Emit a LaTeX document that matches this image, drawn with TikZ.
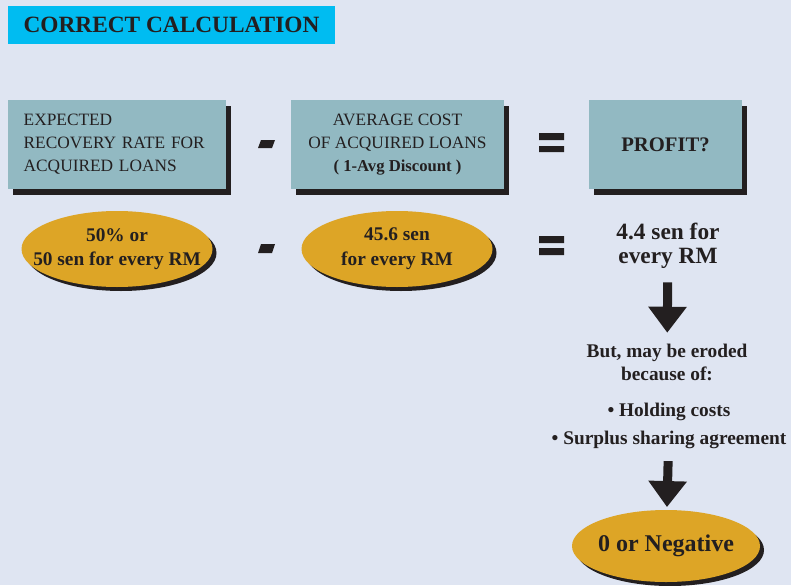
\documentclass[tikz,border=0pt]{standalone}
\usepackage{fontspec}
\setmainfont{Liberation Serif}
\usetikzlibrary{shapes,arrows.meta,shadows,positioning}
\definecolor{bgpage}{HTML}{DFE5F2}
\definecolor{hdrblue}{HTML}{00BCF1}
\definecolor{boxteal}{HTML}{92B9C2}
\definecolor{gold}{HTML}{DDA526}
\definecolor{ink}{HTML}{231F20}

\begin{document}
\begin{tikzpicture}[x=0.75pt,y=-0.75pt,
  tbox/.style={rectangle,fill=boxteal,inner sep=0pt,minimum height=66.75pt,text=ink,
    font=\fontsize{13}{17.25}\selectfont,
    drop shadow={shadow xshift=3.75pt,shadow yshift=-4.5pt,fill=ink,opacity=1}},
  ovl/.style={ellipse,fill=gold,inner xsep=-14pt,inner ysep=0pt,minimum width=143.25pt,minimum height=57pt,
    text=ink,align=center,font=\bfseries\fontsize{14.5}{18.5}\selectfont,
    drop shadow={shadow xshift=3pt,shadow yshift=-3pt,fill=ink,opacity=1}},
  txt/.style={text=ink,align=center,inner sep=0pt,font=\bfseries\fontsize{14.5}{17.25}\selectfont},
  bigarr/.style={draw=ink,line width=6.75pt,-{Triangle[width=27.75pt,length=19.5pt]}},
  opr/.style={fill=ink}]
  \useasboundingbox[fill=bgpage] (0,0) rectangle (791,585);

  \node[fill=hdrblue,minimum width=245.25pt,minimum height=28.5pt,inner sep=0pt,text=ink,
    font=\bfseries\fontsize{17.5}{20}\selectfont] (title) at (171.5,25) {CORRECT CALCULATION};

  \node[tbox,minimum width=163.5pt,text width=140pt,inner xsep=11.75pt,align=left] (exp) at (117,144.5)
    {EXPECTED\\RECOVERY RATE FOR\\ACQUIRED LOANS};
  \node[tbox,minimum width=159.75pt,align=center] (avg) at (397.5,144.5)
    {AVERAGE COST\\OF ACQUIRED LOANS\\{\bfseries\fontsize{12.5}{15}\selectfont( 1-Avg Discount )}};
  \node[tbox,minimum width=114.75pt,font=\bfseries\fontsize{15.5}{18}\selectfont] (prof) at (665.5,144.5) {PROFIT?};

  \node[ovl] (rate) at (117,249) {50\% or\\50 sen for every RM};
  \node[ovl] (cost) at (397,249) {45.6 sen\\for every RM};
  \node[txt,font=\bfseries\fontsize{17.5}{18}\selectfont] (res) at (668,246) {4.4 sen for\\every RM};

  \node[txt] (but) at (667,362) {But, may be eroded\\because of:};
  \node[txt,font=\bfseries\fontsize{14.5}{21}\selectfont] (why) at (669,426) {• Holding costs\\• Surplus sharing agreement};
  \node[ovl,inner xsep=-6pt,minimum width=141pt,minimum height=54pt,font=\bfseries\fontsize{18}{20}\selectfont] (neg) at (666,546) {0 or Negative};

  \draw[bigarr,shorten <=10pt,shorten >=8pt] (res) -- (but);
  \draw[bigarr,shorten <=9pt,shorten >=2pt] (why) -- (neg);

  \fill[opr] (258,148) -- (261,140) -- (275,140) -- (272,148) -- cycle;
  \fill[opr] (258,253) -- (261,244) -- (275,244) -- (272,253) -- cycle;
  \fill[opr] (539,133) rectangle (564,140) (539,146) rectangle (564,152);
  \fill[opr] (539,236) rectangle (564,243) (539,248) rectangle (564,255);
\end{tikzpicture}
\end{document}
